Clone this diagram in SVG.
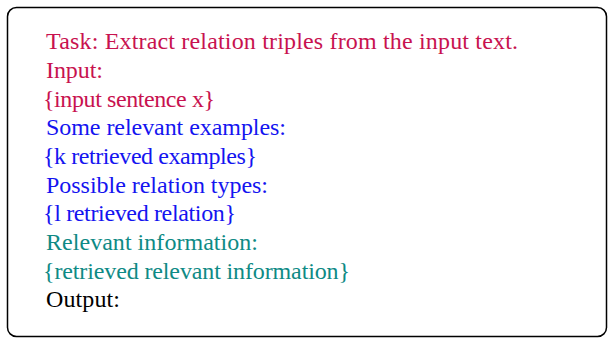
<svg xmlns="http://www.w3.org/2000/svg" width="609" height="339" viewBox="0 0 609 339">
<style>
text{font-family:"Liberation Serif","Times New Roman",serif;font-size:24px}
.r{fill:#C8124F}.b{fill:#1414F0}.t{fill:#0E8A85}.k{fill:#000}
</style>
<rect x="0" y="0" width="609" height="339" fill="#fff"/>
<g id="box">
<rect x="7.5" y="7.5" width="599" height="329" rx="9" fill="#fff" stroke="#000" stroke-width="1.5"/>
</g>
<g id="text">
<text class="r" x="46" y="49" textLength="472">Task: Extract relation triples from the input text.</text>
<text class="r" x="46" y="78" textLength="57">Input:</text>
<text class="r" x="43" y="107" textLength="172">{input sentence x}</text>
<text class="b" x="46" y="135" textLength="240">Some relevant examples:</text>
<text class="b" x="43" y="164" textLength="214">{k retrieved examples}</text>
<text class="b" x="46" y="193" textLength="222">Possible relation types:</text>
<text class="b" x="43" y="221" textLength="193">{l retrieved relation}</text>
<text class="t" x="46" y="250" textLength="212">Relevant information:</text>
<text class="t" x="43" y="279" textLength="307">{retrieved relevant information}</text>
<text class="k" x="46" y="307" textLength="74">Output:</text>
</g>
</svg>
